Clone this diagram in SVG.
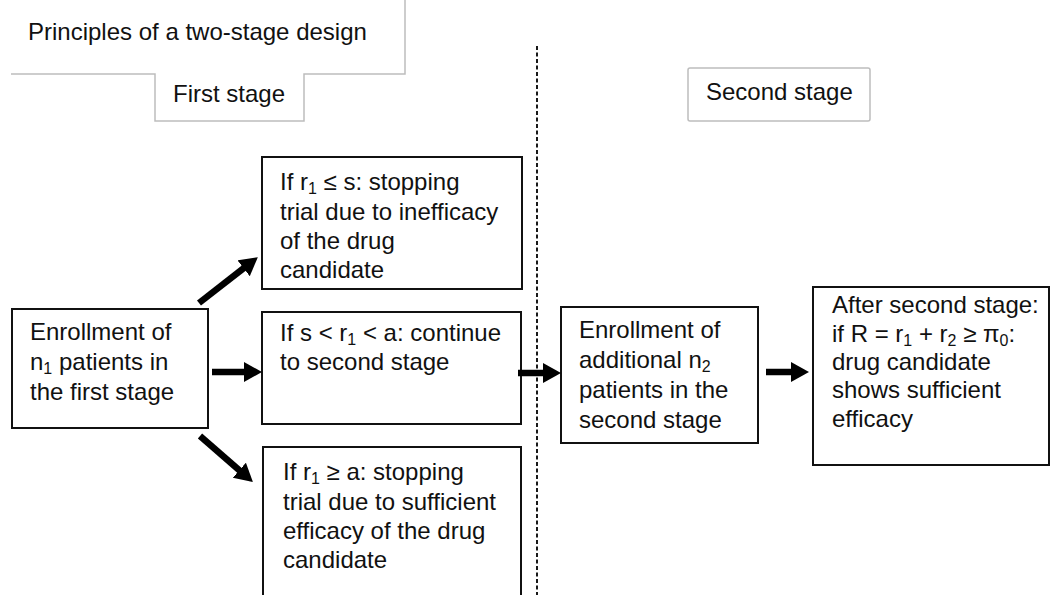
<svg xmlns="http://www.w3.org/2000/svg" width="1051" height="595" viewBox="0 0 1051 595">
<defs>
<style>
text{font-family:"Liberation Sans",Arial,sans-serif;font-size:24px;fill:#111}
.box{fill:#fff;stroke:#111;stroke-width:2}
.lbl{fill:none;stroke:#bdbdbd;stroke-width:1.5}
.sub{font-size:16px}
.arr{stroke:#000;stroke-width:6.5;fill:none;marker-end:url(#ah)}
</style>
<marker id="ah" markerUnits="userSpaceOnUse" markerWidth="20" markerHeight="22" refX="3" refY="10.5" orient="auto" viewBox="0 0 20 22">
<path d="M0,0.5 L18,10.5 L0,20.5 z" fill="#000"/>
</marker>
</defs>
<rect width="1051" height="595" fill="#fff"/>

<g id="title">
<polyline class="lbl" points="11,74 155,74 155,121 304,121 304,74 405,74 405,0"/>
<text x="28" y="40">Principles of a two-stage design</text>
</g>
<g id="first-stage-label">
<text x="173" y="102">First stage</text>
</g>
<g id="second-stage-label">
<rect class="lbl" x="688" y="68" width="182" height="53" rx="2"/>
<text x="706" y="100">Second stage</text>
</g>

<g id="divider">
<line x1="537" y1="46" x2="537" y2="595" stroke="#000" stroke-width="1.8" stroke-dasharray="4 2.5"/>
</g>

<g id="enroll1">
<rect class="box" x="12" y="309" width="196" height="119"/>
<text x="30" y="340">Enrollment of</text>
<text x="30" y="370">n<tspan class="sub" dy="4">1</tspan><tspan dy="-4"> patients in</tspan></text>
<text x="30" y="400">the first stage</text>
</g>

<g id="stop-ineff">
<rect class="box" x="262" y="157" width="260" height="132"/>
<text x="280" y="190">If r<tspan class="sub" dy="4">1</tspan><tspan dy="-4"> ≤ s: stopping</tspan></text>
<text x="280" y="220">trial due to inefficacy</text>
<text x="280" y="249">of the drug</text>
<text x="280" y="278">candidate</text>
</g>

<g id="continue">
<rect class="box" x="262" y="312" width="259" height="112"/>
<text x="280" y="341">If s &lt; r<tspan class="sub" dy="4">1</tspan><tspan dy="-4"> &lt; a: continue</tspan></text>
<text x="280" y="370">to second stage</text>
</g>

<g id="stop-eff">
<rect class="box" x="263" y="447" width="258" height="170"/>
<text x="283" y="480">If r<tspan class="sub" dy="4">1</tspan><tspan dy="-4"> ≥ a: stopping</tspan></text>
<text x="283" y="510">trial due to sufficient</text>
<text x="283" y="539">efficacy of the drug</text>
<text x="283" y="568">candidate</text>
</g>

<g id="enroll2">
<rect class="box" x="561" y="307" width="197" height="136"/>
<text x="579" y="338">Enrollment of</text>
<text x="579" y="368">additional n<tspan class="sub" dy="4">2</tspan></text>
<text x="579" y="398">patients in the</text>
<text x="579" y="428">second stage</text>
</g>

<g id="final">
<rect class="box" x="813" y="287" width="236" height="178"/>
<text x="832" y="313">After second stage:</text>
<text x="832" y="342">if R = r<tspan class="sub" dy="4">1</tspan><tspan dy="-4"> + r</tspan><tspan class="sub" dy="4">2</tspan><tspan dy="-4"> ≥ π</tspan><tspan class="sub" dy="4">0</tspan><tspan dy="-4">:</tspan></text>
<text x="832" y="370">drug candidate</text>
<text x="832" y="398">shows sufficient</text>
<text x="832" y="427">efficacy</text>
</g>

<g id="connectors">
<line class="arr" x1="199" y1="303" x2="246" y2="266.4"/>
<line class="arr" x1="212" y1="372" x2="247" y2="372"/>
<line class="arr" x1="200" y1="436" x2="241.6" y2="472.2"/>
<line class="arr" x1="518" y1="373" x2="546" y2="373"/>
<line class="arr" x1="766" y1="372" x2="794" y2="372"/>
</g>
</svg>
